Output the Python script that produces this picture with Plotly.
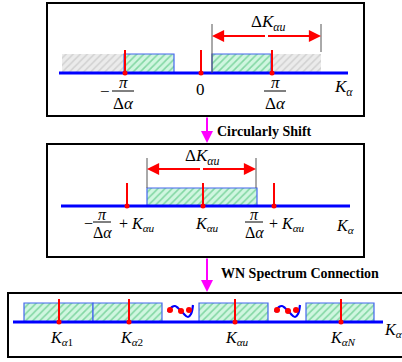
import plotly.graph_objects as go

# ---------------- diagram data (pixel-space coordinates of the sketch) -------------
panel_x0 = [47, 47, 8]
panel_x1 = [364, 364, 405]
panel_y0 = [3, 144, 293]
panel_y1 = [116, 257, 357]

# axis lines: (x_start, x_end, y)
axis_x0 = [59, 61, 13]
axis_x1 = [348, 350, 383]
axis_y = [73, 206, 322]

# panel 1
p1_grey_blocks = [(62, 124), (271, 321)]
p1_green_blocks = [(124, 174), (212, 271)]
p1_block_top = 54
p1_ticks = [125, 201, 272]
p1_tick_top = 50

# panel 2
p2_green_blocks = [(147, 257)]
p2_block_top = 188
p2_ticks = [127, 203, 274]
p2_tick_top = 183

# panel 3
p3_green_blocks = [(24, 93), (93, 162), (199, 268), (306, 374)]
p3_block_top = 303
p3_ticks = [59, 129, 235, 341]
p3_tick_top = 299
p3_labels = ["1", "2", "u", "N"]
wave_centers = [180, 287]
wave_dx = [-12, -8, -5, -2, 3, 8, 11, 13]
wave_dy = [312, 307, 306, 308, 313, 317, 314, 305]
wave_dot_dx = [-10, 1, 9]
wave_dot_dy = [310, 311, 310]

# ΔK arrows: (x_left, x_right, y_arrow, y_line_top_left, y_line_top_right)
dk_arrows = [(212, 321, 36, 24, 24), (147, 256, 169, 158, 158)]
dk_line_bottom = [(73, 52), (188, 188)]
dk_label_pos = [(268, 23), (202, 157)]

# flow arrows between panels
flow_x = 207
flow_y = [(116, 143), (257, 292)]
flow_text = ["Circularly Shift", "WN Spectrum Connection"]
flow_text_pos = [(264, 131), (300, 273)]

BLUE = "#0000ff"
RED = "#ff0000"
MAG = "#ff00ff"
SERIF = "Liberation Serif"

fig = go.Figure()
shapes = []
annos = []


def block(x0, x1, top, bottom, green=True, outline=True):
    if green:
        fp = dict(shape="/", fgcolor="#34b866", bgcolor="#d0f6e0", size=5, solidity=0.32)
    else:
        fp = dict(shape="/", fgcolor="#b8b8b8", bgcolor="#ebebeb", size=5, solidity=0.3)
    fig.add_trace(go.Scatter(
        x=[x0, x1, x1, x0, x0], y=[bottom, bottom, top, top, bottom],
        mode="lines", fill="toself", fillpattern=fp, fillcolor=fp["bgcolor"],
        line=dict(color="#4466ee" if outline else "rgba(0,0,0,0)", width=1.2),
        hoverinfo="skip", showlegend=False))


# panel frames
for x0, x1, y0, y1 in zip(panel_x0, panel_x1, panel_y0, panel_y1):
    shapes.append(dict(type="rect", x0=x0, x1=x1, y0=y0, y1=y1,
                       line=dict(color="black", width=2), layer="below"))

# blocks
for a, b in p1_grey_blocks:
    block(a, b, p1_block_top, axis_y[0], green=False, outline=False)
for a, b in p1_green_blocks:
    block(a, b, p1_block_top, axis_y[0])
for a, b in p2_green_blocks:
    block(a, b, p2_block_top, axis_y[1])
for a, b in p3_green_blocks:
    block(a, b, p3_block_top, axis_y[2])

# axis lines
for x0, x1, y in zip(axis_x0, axis_x1, axis_y):
    fig.add_trace(go.Scatter(x=[x0, x1], y=[y, y], mode="lines",
                             line=dict(color=BLUE, width=3), hoverinfo="skip", showlegend=False))

# red ticks with dots
for ticks, top, y in [(p1_ticks, p1_tick_top, axis_y[0]),
                      (p2_ticks, p2_tick_top, axis_y[1]),
                      (p3_ticks, p3_tick_top, axis_y[2])]:
    for t in ticks:
        fig.add_trace(go.Scatter(x=[t, t], y=[top, y], mode="lines",
                                 line=dict(color=RED, width=2), hoverinfo="skip", showlegend=False))
    fig.add_trace(go.Scatter(x=ticks, y=[y] * len(ticks), mode="markers",
                             marker=dict(color=RED, size=5), hoverinfo="skip", showlegend=False))

# waves
for c in wave_centers:
    fig.add_trace(go.Scatter(x=[c + d for d in wave_dx], y=wave_dy,
                             mode="lines", line=dict(color=BLUE, width=2.2, shape="spline"),
                             hoverinfo="skip", showlegend=False))
    fig.add_trace(go.Scatter(x=[c + d for d in wave_dot_dx], y=wave_dot_dy,
                             mode="markers", marker=dict(color=RED, size=6),
                             hoverinfo="skip", showlegend=False))

# ΔK arrows
for (xl, xr, ya, tl, tr), (bl, br), (lx, ly) in zip(dk_arrows, dk_line_bottom, dk_label_pos):
    shapes.append(dict(type="line", x0=xl, x1=xl, y0=tl, y1=bl, line=dict(color="#555555", width=1)))
    shapes.append(dict(type="line", x0=xr, x1=xr, y0=tr, y1=br, line=dict(color="#555555", width=1)))
    mid = (xl + xr) / 2
    for end in (xl, xr):
        annos.append(dict(x=end, y=ya, ax=mid, ay=ya, xref="x", yref="y", axref="x", ayref="y",
                          showarrow=True, arrowhead=2, arrowsize=1.1, arrowwidth=2.2,
                          arrowcolor=RED, text="", standoff=0))
    annos.append(dict(x=lx, y=ly, text="Δ<i>K</i><sub><i>αu</i></sub>", showarrow=False,
                      font=dict(family=SERIF, size=17, color="black")))

# flow arrows
for (y0, y1), txt_, (tx, ty) in zip(flow_y, flow_text, flow_text_pos):
    annos.append(dict(x=flow_x, y=y1, ax=flow_x, ay=y0, xref="x", yref="y", axref="x", ayref="y",
                      showarrow=True, arrowhead=2, arrowsize=1.2, arrowwidth=2,
                      arrowcolor=MAG, text="", standoff=0))
    annos.append(dict(x=tx, y=ty, text="<b>" + txt_ + "</b>", showarrow=False,
                      font=dict(family=SERIF, size=14, color="black")))


def txt(x, y, s, size=17):
    annos.append(dict(x=x, y=y, text=s, showarrow=False,
                      font=dict(family=SERIF, size=size, color="black")))


def frac(xc, ytop, ybar, ybot, half, size=17):
    txt(xc, ytop, "<i>π</i>", size)
    shapes.append(dict(type="line", x0=xc - half, x1=xc + half, y0=ybar, y1=ybar,
                       line=dict(color="black", width=1)))
    txt(xc, ybot, "Δ<i>α</i>", size)


# panel 1 labels
txt(105, 91, "−")
frac(123, 82, 91, 103, 11)
txt(200, 89, "0")
frac(275, 82, 91, 103, 11)
txt(343, 88, "<i>K</i><sub><i>α</i></sub>")

# panel 2 labels
txt(88, 223, "−", 16)
frac(102, 214, 222, 232, 9, 16)
txt(137, 224, "+ <i>K</i><sub><i>αu</i></sub>", 16)
txt(207, 224, "<i>K</i><sub><i>αu</i></sub>", 16)
frac(254, 214, 222, 232, 9, 16)
txt(287, 224, "+ <i>K</i><sub><i>αu</i></sub>", 16)
txt(345, 226, "<i>K</i><sub><i>α</i></sub>", 16)

# panel 3 labels
for t, lab in zip(p3_ticks, p3_labels):
    sub = "<i>α</i>" + (lab if lab.isdigit() else "<i>" + lab + "</i>")
    txt(t + 2, 338, "<i>K</i><sub>" + sub + "</sub>", 16)
txt(393, 330, "<i>K</i><sub><i>α</i></sub>", 16)

fig.update_layout(
    width=402, height=362, margin=dict(l=0, r=0, t=0, b=0),
    paper_bgcolor="white", plot_bgcolor="white",
    xaxis=dict(range=[0, 402], visible=False, fixedrange=True),
    yaxis=dict(range=[362, 0], visible=False, fixedrange=True),
    shapes=shapes, annotations=annos, showlegend=False,
)
fig.write_html("out.html", config={"displayModeBar": False},
               post_script="document.body.style.margin='0px';")
